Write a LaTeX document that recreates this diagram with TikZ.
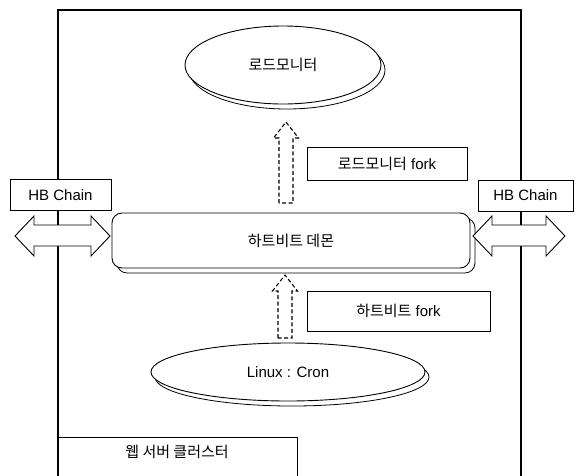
\documentclass[tikz,border=0pt]{standalone}
\usepackage{fontspec}
\setmainfont{Liberation Sans}
\newfontfamily\kr{Noto Sans CJK KR}
\usetikzlibrary{shapes.geometric,calc}

\newcommand{\blockup}[2]{%
  \draw[dasharrow] ($(#1)+(-7,0)$) -- ($(#2)+(-7,16)$) -- ($(#2)+(-12.5,16)$) -- (#2)
    -- ($(#2)+(12.5,16)$) -- ($(#2)+(7,16)$) -- ($(#1)+(7,0)$) -- cycle;}

\begin{document}
\begin{tikzpicture}[x=1pt,y=-1pt,
  txt/.style={font=\fontsize{15}{18}\selectfont, inner sep=0pt},
  box/.style={draw, line width=0.9pt, fill=white, inner sep=0pt, outer sep=0pt,
              font=\fontsize{15}{18}\selectfont},
  ell/.style={ellipse, draw, line width=0.9pt, fill=white, inner sep=0pt, outer sep=0pt,
              font=\fontsize{15}{18}\selectfont},
  shadowline/.style={draw, line width=0.8pt},
  dasharrow/.style={draw=black, line width=1.1pt, dash pattern=on 4pt off 2.5pt, fill=white},
  dblarrow/.style={draw, line width=0.9pt, fill=white, line join=miter},
  framel/.style={draw, line width=1.3pt}
]
\useasboundingbox (0,0) rectangle (576,475);
\clip (0,0) rectangle (576,475);

% outer frame
\draw[framel] (58,480) -- (58,10) -- (521,10) -- (521,480);

% web server cluster box
\draw[line width=1pt, fill=white] (58,437) rectangle (297,482);
\node[txt] (web) at (177,452) {\kr 웹 서버 클러스터};

% top ellipse (load monitor)
\draw[shadowline] (287,70) ellipse [x radius=98, y radius=39];
\node[ell, minimum width=196pt, minimum height=78pt] (lm) at (283,65) {\kr 로드모니터};

% fork labels
\node[box, minimum width=160pt, minimum height=33pt] (lmfork) at (387,163.5) {{\kr 로드모니터} fork};
\node[box, minimum width=183pt, minimum height=40pt] (hbfork) at (398.5,311) {{\kr 하트비트} fork};

% heartbeat daemon
\draw[shadowline, rounded corners=10pt] (117,218) rectangle (475,273);
\node[box, rounded corners=10pt, minimum width=358pt, minimum height=55pt] (hbd) at (291,240.5) {\kr 하트비트 데몬};

% Linux Cron ellipse
\draw[shadowline] (292,377) ellipse [x radius=137, y radius=29];
\node[ell, minimum width=274pt, minimum height=58pt] (cron) at (288,372) {Linux : Cron};

% HB chain boxes
\node[box, minimum width=101pt, minimum height=31pt] (hbl) at (60.5,195) {HB Chain};
\node[box, minimum width=95pt, minimum height=31pt] (hbr) at (525.5,195.5) {HB Chain};

% double arrows
\draw[dblarrow] (15,236) -- (34,216) -- (34,225) -- (91,225) -- (91,216) -- (110,236)
  -- (91,256) -- (91,246) -- (34,246) -- (34,256) -- cycle;
\draw[dblarrow] (473,236) -- (492,216) -- (492,225) -- (546,225) -- (546,216) -- (565,236)
  -- (546,256) -- (546,246) -- (492,246) -- (492,256) -- cycle;

% dashed block arrows
\coordinate (a1b) at (286,203);
\coordinate (a1t) at (286,122);
\coordinate (a2b) at (285,338);
\coordinate (a2t) at (285,275);
\blockup{a1b}{a1t}
\blockup{a2b}{a2t}
\end{tikzpicture}
\end{document}
